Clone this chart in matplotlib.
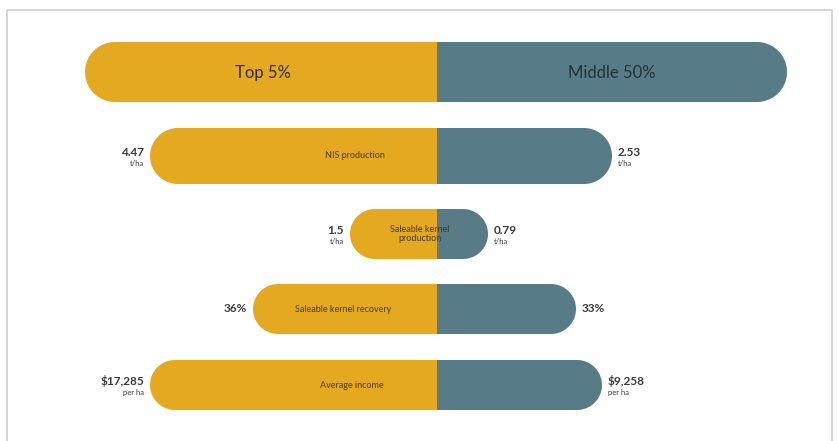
import matplotlib
matplotlib.use('Agg')
import matplotlib.pyplot as plt
import numpy as np
from matplotlib.patches import Polygon, Rectangle

# header bar
groups = ['Top 5%', 'Middle 50%']

# rows: label, left value, right value, drawn half-lengths
metrics = ['NIS production', 'Saleable kernel\nproduction', 'Saleable kernel recovery', 'Average income']
top_vals = ['4.47', '1.5', '36%', '$17,285']
mid_vals = ['2.53', '0.79', '33%', '$9,258']
units = ['t/ha', 't/ha', '', 'per ha']
left_len = [287, 87, 184, 287]
right_len = [175, 51, 139, 165]

GOLD = '#E4A921'
SLATE = '#577B87'
TEXT = '#3a3a3a'
CX = 437

plt.rcParams['font.family'] = ['Lato', 'DejaVu Sans']

fig = plt.figure(figsize=(8.38, 4.41), dpi=100)
ax = fig.add_axes([0, 0, 1, 1])
ax.set_xlim(0, 838)
ax.set_ylim(441, 0)
ax.axis('off')

# frame
ax.add_patch(Rectangle((7, 10), 825, 440, fill=False, edgecolor='#cfcfd4', lw=1.2))


def half_pill(x_end, yc, h, color, side):
    # flat edge at the centre line, semicircular end at x_end
    r = h / 2
    if side == 'left':
        t = np.linspace(np.pi / 2, 3 * np.pi / 2, 40)
        cx = x_end + r
        arc = np.column_stack([cx + r * np.cos(t), yc - r * np.sin(t)])
        pts = np.vstack([[[CX, yc - r]], arc, [[CX, yc + r]]])
    else:
        t = np.linspace(np.pi / 2, -np.pi / 2, 40)
        cx = x_end - r
        arc = np.column_stack([cx + r * np.cos(t), yc - r * np.sin(t)])
        pts = np.vstack([[[CX, yc - r]], arc, [[CX, yc + r]]])
    ax.add_patch(Polygon(pts, closed=True, facecolor=color, edgecolor='none'))


def split_bar(lhalf, rhalf, yc, h):
    half_pill(CX - lhalf, yc, h, GOLD, 'left')
    half_pill(CX + rhalf, yc, h, SLATE, 'right')


# header
split_bar(CX - 85, 787 - CX, 72, 60)
ax.text(263, 73, groups[0], ha='center', va='center', fontsize=12, color='#2f2a1e')
ax.text(612, 73, groups[1], ha='center', va='center', fontsize=12, color='#23333a')

rows_y = [156, 234, 309, 385]
rows_h = [56, 50, 50, 50]
label_x = [355, 420, 343, 352]

for i, m in enumerate(metrics):
    y = rows_y[i]
    split_bar(left_len[i], right_len[i], y, rows_h[i])
    ax.text(label_x[i], y, m, ha='center', va='center', fontsize=6.5,
            color='#4a3a12', linespacing=1.1)
    lx = CX - left_len[i] - 6
    rx = CX + right_len[i] + 6
    if units[i]:
        ax.text(lx, y - 4, top_vals[i], ha='right', va='center', fontsize=8.5, color=TEXT,
                fontweight='bold')
        ax.text(lx, y + 7, units[i], ha='right', va='center', fontsize=5.5, color=TEXT)
        ax.text(rx, y - 4, mid_vals[i], ha='left', va='center', fontsize=8.5, color=TEXT,
                fontweight='bold')
        ax.text(rx, y + 7, units[i], ha='left', va='center', fontsize=5.5, color=TEXT)
    else:
        ax.text(lx, y, top_vals[i], ha='right', va='center', fontsize=8.5, color=TEXT,
                fontweight='bold')
        ax.text(rx, y, mid_vals[i], ha='left', va='center', fontsize=8.5, color=TEXT,
                fontweight='bold')

fig.savefig('out.png', dpi=100)
